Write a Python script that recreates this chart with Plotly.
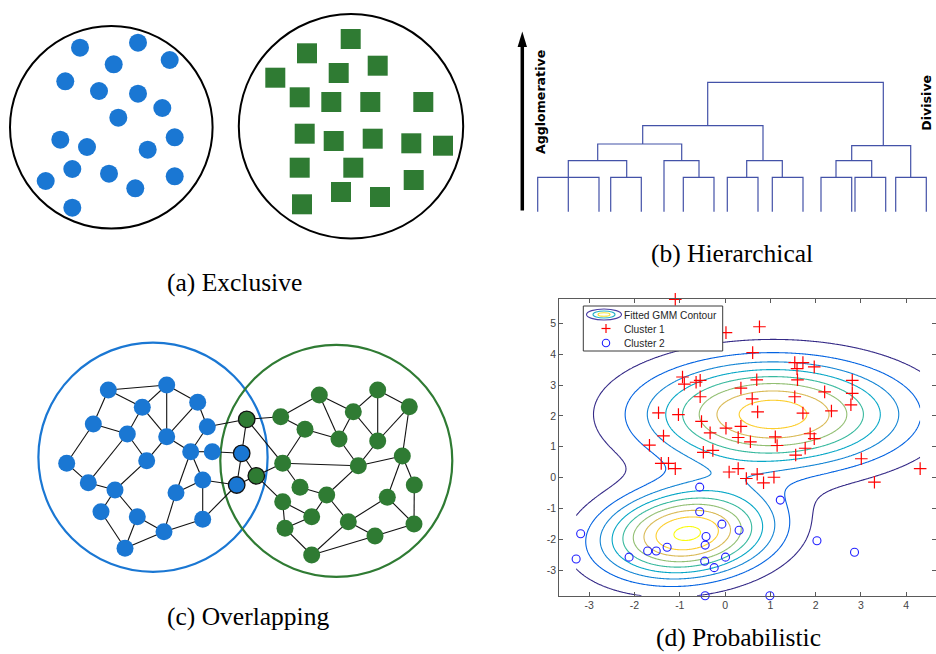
import numpy as np
import plotly.graph_objects as go

W, H = 936, 654

# ---------------- (a) Exclusive: two disjoint groups ----------------
excl_blue_x = [80.0, 138.0, 169.7, 113.7, 65.3, 99.0, 138.0, 162.3, 118.3, 60.3,
               87.0, 174.7, 147.7, 72.3, 109.0, 45.7, 135.3, 174.7, 72.3]
excl_blue_y = [47.7, 42.7, 60.0, 64.3, 81.3, 91.0, 93.7, 108.0, 117.7, 139.7,
               147.0, 137.3, 149.7, 169.0, 173.7, 181.0, 188.3, 176.3, 207.7]
excl_green_x = [350.7, 307.0, 275.3, 338.7, 377.7, 299.7, 331.3, 370.3, 423.3, 304.7,
                333.7, 372.7, 411.3, 443.0, 299.7, 353.3, 413.7, 341.0, 380.0, 302.0]
excl_green_y = [39.0, 53.3, 77.7, 73.0, 65.7, 97.3, 102.0, 102.0, 102.0, 133.7,
                141.0, 138.7, 143.3, 145.7, 167.7, 167.7, 180.0, 192.0, 197.0, 204.3]
excl_circle_cx = [111.3, 351.0]
excl_circle_cy = [127.3, 126.3]
excl_circle_r = [101.3, 112.2]

# ---------------- (b) Hierarchical: dendrogram links ----------------
link_xl = [537.7, 610.7, 683.3, 727.3, 772.3, 821.0, 855.0, 895.7,
           568.3, 664.0, 746.7, 836.0, 597.7, 851.7, 642.7, 707.7]
link_xr = [599.0, 641.3, 714.0, 758.0, 803.0, 851.7, 885.7, 926.3,
           626.7, 699.0, 782.3, 871.7, 681.7, 910.7, 763.0, 883.3]
link_h = [177.3, 177.3, 177.3, 177.3, 177.3, 177.3, 177.3, 177.3,
          160.7, 160.7, 160.7, 160.7, 144.0, 145.7, 125.7, 82.3]
link_bl = [211.7, 211.7, 211.7, 211.7, 211.7, 211.7, 211.7, 211.7,
           211.7, 211.7, 177.3, 177.3, 160.7, 160.7, 144.0, 125.7]
link_br = [211.7, 211.7, 211.7, 211.7, 211.7, 211.7, 211.7, 211.7,
           177.3, 177.3, 177.3, 177.3, 160.7, 177.3, 160.7, 145.7]

# ---------------- (c) Overlapping: graph with shared nodes ----------------
# group: 0 blue, 1 green, 2 blue (shared), 3 green (shared)
net_x = [108.3, 166.7, 197.7, 142.3, 93.3, 127.3, 166.7, 207.3, 190.7, 212.3,
         66.7, 146.7, 88.3, 115.0, 202.7, 176.0, 101.0, 137.3, 164.0, 202.7, 125.0,
         241.7, 236.7, 246.7, 256.3,
         280.7, 319.3, 377.7, 409.3, 353.3, 305.0, 339.0, 377.7, 402.3, 282.7,
         358.3, 300.0, 326.7, 414.3, 282.7, 387.3, 311.7, 348.3, 285.0, 414.0,
         375.0, 311.7]
net_y = [390.0, 385.0, 402.3, 407.3, 424.0, 434.0, 436.7, 426.7, 451.7, 451.7,
         463.3, 460.7, 482.7, 490.0, 480.0, 492.7, 511.7, 516.7, 531.7, 519.3, 548.3,
         453.3, 485.0, 419.3, 475.8,
         416.7, 395.0, 390.0, 406.7, 411.7, 429.3, 439.0, 441.0, 456.0, 463.3,
         465.7, 487.3, 495.0, 485.0, 501.7, 497.3, 516.7, 521.7, 528.3, 524.0,
         536.0, 555.0]
net_group = [0] * 21 + [2, 2, 3, 3] + [1] * 22
net_edges = [
    (0, 1), (0, 3), (0, 4), (1, 3), (1, 6), (1, 2), (3, 6), (3, 5), (4, 5), (4, 10),
    (5, 11), (5, 12), (10, 12), (12, 13), (11, 13), (11, 6), (13, 16), (13, 17),
    (16, 20), (17, 20), (17, 18), (20, 18), (18, 19), (18, 15), (15, 8), (15, 14),
    (14, 19), (14, 22), (19, 22), (2, 6), (2, 7), (6, 8), (8, 9), (8, 7), (8, 14),
    (7, 23), (9, 21), (21, 23), (21, 22), (21, 24), (22, 24),
    (23, 25), (23, 34), (24, 34), (24, 39), (25, 26), (26, 31), (26, 29), (29, 27),
    (27, 32), (27, 28), (28, 32), (28, 33), (29, 31), (29, 32), (25, 30), (30, 31),
    (30, 34), (34, 35), (35, 33), (31, 35), (32, 35), (34, 36), (36, 37), (35, 37),
    (37, 41), (39, 41), (39, 43), (43, 41), (43, 46), (46, 42), (46, 45), (37, 42),
    (42, 45), (42, 40), (40, 33), (40, 44), (38, 33), (38, 44), (44, 45),
]
ovl_circle_cx = [153.0, 336.3]
ovl_circle_cy = [457.2, 460.8]
ovl_circle_r = [114.6, 116.0]

# ---------------- (d) Probabilistic: GMM fit ----------------
c1_x = [-1.10, 0.02, 0.76, 0.61, 1.54, 1.72, 1.59, 1.97, -0.94, -0.90,
        -0.64, -0.55, 0.70, 1.60, 0.35, 2.81, 2.20, 2.81, -0.55, 0.60,
        1.54, 2.78, -1.47, -1.03, 0.72, 1.72, 2.35, -0.52, 0.02, 0.35,
        -0.33, -1.36, 0.29, 1.11, 1.88, 1.97, 0.56, -1.67, 1.15, 1.77,
        1.56, -0.48, -0.27, 3.01, -1.41, -1.25, -1.10, 0.09, 0.29, 0.47,
        0.71, 0.85, 1.08, 4.31, 3.30]
c1_y = [5.78, 4.70, 4.89, 4.05, 3.73, 3.73, 3.53, 3.59, 3.26, 3.03,
        3.09, 3.15, 3.17, 3.17, 2.90, 3.15, 2.78, 2.73, 2.62, 2.55,
        2.62, 2.36, 2.10, 2.04, 2.13, 2.09, 2.16, 1.82, 1.60, 1.66,
        1.45, 1.35, 1.30, 1.32, 1.42, 1.26, 1.16, 1.05, 1.04, 0.95,
        0.73, 0.82, 0.88, 0.61, 0.46, 0.46, 0.29, 0.18, 0.29, -0.03,
        0.11, -0.17, 0.01, 0.29, -0.15]
c2_x = [-0.56, 1.22, -0.56, -0.07, 0.31, -0.42, -0.44, -1.28, -1.71, -1.52,
        -3.19, -3.29, -2.12, -0.45, 0.01, -0.24, 2.03, 2.86, -0.44, 0.99]
c2_y = [-0.31, -0.73, -1.11, -1.51, -1.71, -1.91, -2.19, -2.26, -2.38, -2.38,
        -1.82, -2.64, -2.58, -2.71, -2.58, -2.92, -2.05, -2.42, -3.83, -3.83]

gmm_weight = [0.628, 0.372]
gmm_mean_x = [1.06, -0.84]
gmm_mean_y = [2.05, -1.82]
gmm_sigma_x = [1.91, 1.28]
gmm_sigma_y = [1.17, 0.98]
gmm_rho = [0.0, 0.15]
level_step = 0.00518
n_levels = 9

x_ticks = [-3, -2, -1, 0, 1, 2, 3, 4]
y_ticks = [-3, -2, -1, 0, 1, 2, 3, 4, 5]

captions = ["(a) Exclusive", "(b) Hierarchical", "(c) Overlapping", "(d) Probabilistic"]

# ---------------------------------------------------------------------------
BLUE = "#1a77d3"
GREEN = "#2f7b33"
SERIF = "Liberation Serif, Times New Roman, serif"
SANS = "Liberation Sans, Arial, sans-serif"

parula = [[0.0, "#352a87"], [0.125, "#0363e1"], [0.25, "#1485d4"],
          [0.375, "#06a7c6"], [0.5, "#38b99e"], [0.625, "#92bf73"],
          [0.75, "#d9ba56"], [0.875, "#fcce2e"], [1.0, "#f9fb0e"]]

fig = go.Figure()

# mixture density over the data bounding box
all_x = np.array(c1_x + c2_x)
all_y = np.array(c1_y + c2_y)
gx = np.linspace(all_x.min(), all_x.max(), 320)
gy = np.linspace(all_y.min(), all_y.max(), 380)
GX, GY = np.meshgrid(gx, gy)
Z = np.zeros_like(GX)
for w, mx, my, sx, sy, r in zip(gmm_weight, gmm_mean_x, gmm_mean_y,
                                gmm_sigma_x, gmm_sigma_y, gmm_rho):
    u = (GX - mx) / sx
    v = (GY - my) / sy
    q = (u * u - 2 * r * u * v + v * v) / (1 - r * r)
    Z += w * np.exp(-0.5 * q) / (2 * np.pi * sx * sy * np.sqrt(1 - r * r))

lv_start = level_step
lv_end = level_step * n_levels
fig.add_trace(go.Contour(
    x=gx, y=gy, z=Z, xaxis="x", yaxis="y",
    autocontour=False,
    contours=dict(coloring="lines", start=lv_start, end=lv_end, size=level_step),
    colorscale=parula, zmin=lv_start, zmax=lv_end, zauto=False,
    line=dict(width=1.1), showscale=False, hoverinfo="skip",
))
fig.add_trace(go.Scatter(
    x=c1_x, y=c1_y, mode="markers", xaxis="x", yaxis="y", cliponaxis=False,
    marker=dict(symbol="cross-thin-open", size=9, color="#ff0000",
                line=dict(width=1.2, color="#ff0000")),
    name="Cluster 1",
))
fig.add_trace(go.Scatter(
    x=c2_x, y=c2_y, mode="markers", xaxis="x", yaxis="y", cliponaxis=False,
    marker=dict(symbol="circle-open", size=8, color="#2020ff",
                line=dict(width=1.1, color="#2020ff")),
    name="Cluster 2",
))

# ---- overlay canvas (x2/y2) in pixel units for the diagrams ----
OX, OY = "x2", "y2"

fig.add_trace(go.Scatter(
    x=excl_blue_x, y=excl_blue_y, mode="markers", xaxis=OX, yaxis=OY,
    marker=dict(symbol="circle", size=18, color=BLUE, line=dict(width=0)),
    hoverinfo="skip",
))
fig.add_trace(go.Scatter(
    x=excl_green_x, y=excl_green_y, mode="markers", xaxis=OX, yaxis=OY,
    marker=dict(symbol="square", size=20, color=GREEN, line=dict(width=0)),
    hoverinfo="skip",
))

# dendrogram
dx, dy = [], []
for xl, xr, h, bl, br in zip(link_xl, link_xr, link_h, link_bl, link_br):
    dx += [xl, xl, xr, xr, None]
    dy += [bl, h, h, br, None]
fig.add_trace(go.Scatter(
    x=dx, y=dy, mode="lines", xaxis=OX, yaxis=OY,
    line=dict(color="#4352a8", width=1.2), hoverinfo="skip",
))

# graph edges and nodes
ex, ey = [], []
for a, b in net_edges:
    ex += [net_x[a], net_x[b], None]
    ey += [net_y[a], net_y[b], None]
fig.add_trace(go.Scatter(
    x=ex, y=ey, mode="lines", xaxis=OX, yaxis=OY,
    line=dict(color="#111111", width=1.1), hoverinfo="skip",
))
node_fill = [BLUE, GREEN, BLUE, GREEN]
node_edge = ["rgba(0,0,0,0)", "rgba(0,0,0,0)", "#111111", "#111111"]
for g in range(4):
    idx = [i for i, k in enumerate(net_group) if k == g]
    fig.add_trace(go.Scatter(
        x=[net_x[i] for i in idx], y=[net_y[i] for i in idx], mode="markers",
        xaxis=OX, yaxis=OY,
        marker=dict(symbol="circle", size=17 if g < 2 else 16.5, color=node_fill[g],
                    line=dict(width=0 if g < 2 else 1.3, color=node_edge[g])),
        hoverinfo="skip",
    ))

shapes = []
for cx, cy, r in zip(excl_circle_cx, excl_circle_cy, excl_circle_r):
    shapes.append(dict(type="circle", xref=OX, yref=OY, x0=cx - r, x1=cx + r,
                       y0=cy - r, y1=cy + r, line=dict(color="black", width=2),
                       layer="below"))
for cx, cy, r, col in zip(ovl_circle_cx, ovl_circle_cy, ovl_circle_r, [BLUE, GREEN]):
    shapes.append(dict(type="circle", xref=OX, yref=OY, x0=cx - r, x1=cx + r,
                       y0=cy - r, y1=cy + r, line=dict(color=col, width=2.2),
                       layer="below"))

# agglomerative arrow
shapes.append(dict(type="line", xref=OX, yref=OY, x0=522.3, x1=522.3, y0=210.5, y1=44,
                   line=dict(color="black", width=3.5)))
shapes.append(dict(type="path", xref=OX, yref=OY,
                   path="M 517.6 47 L 527 47 L 522.3 31.5 Z",
                   fillcolor="black", line=dict(width=0)))

# legend box for (d)
shapes.append(dict(type="rect", xref=OX, yref=OY, x0=583.3, x1=722.7, y0=306, y1=351,
                   fillcolor="white", line=dict(color="#3a3a3a", width=1), layer="above"))
for w_, h_, col in [(35, 11, "#4b3ea5"), (22, 7, "#27b0c9"), (12, 3.5, "#f2e02a")]:
    shapes.append(dict(type="circle", xref=OX, yref=OY, x0=604 - w_ / 2, x1=604 + w_ / 2,
                       y0=314.5 - h_ / 2, y1=314.5 + h_ / 2,
                       line=dict(color=col, width=1.1), layer="above"))
shapes.append(dict(type="line", xref=OX, yref=OY, x0=601.5, x1=610.5, y0=328.5, y1=328.5,
                   line=dict(color="#ff0000", width=1.2), layer="above"))
shapes.append(dict(type="line", xref=OX, yref=OY, x0=606, x1=606, y0=324, y1=333,
                   line=dict(color="#ff0000", width=1.2), layer="above"))
shapes.append(dict(type="circle", xref=OX, yref=OY, x0=602.3, x1=609.7, y0=339.3, y1=346.7,
                   line=dict(color="#2020ff", width=1.1), layer="above"))

annotations = []
cap_pos = [(234.0, 282.0), (731.5, 253.0), (247.8, 616.5), (738.3, 637.5)]
for txt, (cx, cy) in zip(captions, cap_pos):
    annotations.append(dict(text=txt, x=cx, y=cy, xref=OX, yref=OY, showarrow=False,
                            xanchor="center", yanchor="middle",
                            font=dict(family=SERIF, size=25.5, color="black")))
annotations.append(dict(text="<b>Agglomerative</b>", x=540.5, y=102.5, xref=OX, yref=OY,
                        showarrow=False, textangle=-90, xanchor="center", yanchor="middle",
                        font=dict(family="DejaVu Sans", size=12.6, color="black")))
annotations.append(dict(text="<b>Divisive</b>", x=926.2, y=102.5, xref=OX, yref=OY,
                        showarrow=False, textangle=-90, xanchor="center", yanchor="middle",
                        font=dict(family="DejaVu Sans", size=12.6, color="black")))
for txt, yy in zip(["Fitted GMM Contour", "Cluster 1", "Cluster 2"], [315.0, 329.0, 343.5]):
    annotations.append(dict(text=txt, x=622.0, y=yy, xref=OX, yref=OY, showarrow=False,
                            xanchor="left", yanchor="middle",
                            font=dict(family=SANS, size=10.2, color="#262626")))

axis_d = dict(showgrid=False, zeroline=False, showline=True, linecolor="#5a5a5a",
              linewidth=1, mirror="ticks", ticks="inside", ticklen=4,
              tickcolor="#5a5a5a", tickfont=dict(family=SANS, size=10.5, color="#444444"))

fig.update_layout(
    width=W, height=H, margin=dict(l=0, r=0, t=0, b=0),
    paper_bgcolor="white", plot_bgcolor="rgba(0,0,0,0)", showlegend=False,
    xaxis=dict(domain=[559.3 / W, 1.0], range=[-3.662, 4.66],
               tickvals=x_ticks, ticktext=[str(t) for t in x_ticks], **axis_d),
    yaxis=dict(domain=[(H - 595.7) / H, (H - 299.3) / H],
               range=[float(all_y.min()), float(all_y.max())],
               tickvals=y_ticks, ticktext=[str(t) for t in y_ticks], **axis_d),
    xaxis2=dict(domain=[0, 1], range=[0, W], visible=False, anchor="y2"),
    yaxis2=dict(domain=[0, 1], range=[H, 0], visible=False, anchor="x2"),
    shapes=shapes, annotations=annotations,
)

fig.write_html("out.html")
